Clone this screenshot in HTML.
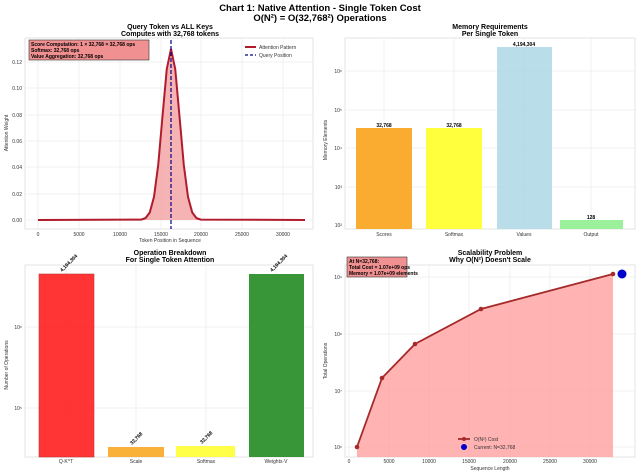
<!DOCTYPE html>
<html><head><meta charset="utf-8"><style>
body{margin:0;background:#fff}
svg{display:block;font-family:"Liberation Sans",sans-serif}
.t{font-size:7px;font-weight:bold;text-anchor:middle}
.tk{font-size:5px;fill:#333}
.g{stroke:#e6e6e6;stroke-width:0.6}
.ax{fill:#fff;stroke:#ddd;stroke-width:0.8}
.v{font-size:5px;font-weight:bold;text-anchor:middle}
</style></head><body>
<svg width="640" height="475" viewBox="0 0 640 475">
<text x="320" y="11" class="t" style="font-size:9.5px">Chart 1: Native Attention - Single Token Cost</text>
<text x="320" y="21" class="t" style="font-size:9.5px">O(N²) = O(32,768²) Operations</text>

<!-- Panel 1 -->
<text x="170" y="29" class="t">Query Token vs ALL Keys</text>
<text x="170" y="36" class="t">Computes with 32,768 tokens</text>
<rect x="25" y="38" width="288" height="191" class="ax"/>
<g class="g">
<line x1="38" y1="38" x2="38" y2="229"/><line x1="79" y1="38" x2="79" y2="229"/><line x1="120" y1="38" x2="120" y2="229"/><line x1="161" y1="38" x2="161" y2="229"/><line x1="201" y1="38" x2="201" y2="229"/><line x1="242" y1="38" x2="242" y2="229"/><line x1="283" y1="38" x2="283" y2="229"/>
<line x1="25" y1="220" x2="313" y2="220"/><line x1="25" y1="194" x2="313" y2="194"/><line x1="25" y1="167" x2="313" y2="167"/><line x1="25" y1="141" x2="313" y2="141"/><line x1="25" y1="115" x2="313" y2="115"/><line x1="25" y1="88" x2="313" y2="88"/><line x1="25" y1="62" x2="313" y2="62"/>
</g>
<path d="M38,220 L141.25,219.6 145.5,218.1 149.75,212.5 154,196.9 158.25,164.5 162.5,116.3 166.75,69.1 171,49 175.25,69.1 179.5,116.3 183.75,164.5 188,196.9 192.25,212.5 196.5,218.1 200.75,219.6 305,220 Z" fill="#f4a0a0" opacity="0.8"/>
<path d="M38,220 L141.25,219.6 145.5,218.1 149.75,212.5 154,196.9 158.25,164.5 162.5,116.3 166.75,69.1 171,49 175.25,69.1 179.5,116.3 183.75,164.5 188,196.9 192.25,212.5 196.5,218.1 200.75,219.6 305,220" fill="none" stroke="#b01c2e" stroke-width="2"/>
<line x1="171" y1="40" x2="171" y2="229" stroke="#00008b" stroke-width="1.2" stroke-dasharray="4,2"/>
<g class="tk" text-anchor="middle"><text x="38" y="236">0</text><text x="79" y="236">5000</text><text x="120" y="236">10000</text><text x="161" y="236">15000</text><text x="201" y="236">20000</text><text x="242" y="236">25000</text><text x="283" y="236">30000</text></g>
<g class="tk" text-anchor="end"><text x="22" y="222">0.00</text><text x="22" y="196">0.02</text><text x="22" y="169">0.04</text><text x="22" y="143">0.06</text><text x="22" y="117">0.08</text><text x="22" y="90">0.10</text><text x="22" y="64">0.12</text></g>
<text x="170" y="242" class="tk" text-anchor="middle">Token Position in Sequence</text>
<text transform="translate(8,133) rotate(-90)" class="tk" text-anchor="middle">Attention Weight</text>
<rect x="29" y="40" width="120" height="20" fill="#f09090" stroke="#333" stroke-width="0.6"/>
<g style="font-size:5px;font-weight:bold"><text x="31" y="46">Score Computation: 1 × 32,768 = 32,768 ops</text><text x="31" y="52">Softmax: 32,768 ops</text><text x="31" y="58">Value Aggregation: 32,768 ops</text></g>
<line x1="245" y1="47" x2="256" y2="47" stroke="#b01c2e" stroke-width="2"/><text x="259" y="49" class="tk">Attention Pattern</text>
<line x1="245" y1="55" x2="256" y2="55" stroke="#00008b" stroke-width="1.2" stroke-dasharray="3,2"/><text x="259" y="57" class="tk">Query Position</text>

<!-- Panel 2 -->
<text x="490" y="29" class="t">Memory Requirements</text>
<text x="490" y="36" class="t">Per Single Token</text>
<rect x="345" y="38" width="290" height="191" class="ax"/>
<g class="g"><line x1="384" y1="38" x2="384" y2="229"/><line x1="454" y1="38" x2="454" y2="229"/><line x1="524" y1="38" x2="524" y2="229"/><line x1="591" y1="38" x2="591" y2="229"/>
<line x1="345" y1="187" x2="635" y2="187"/><line x1="345" y1="148" x2="635" y2="148"/><line x1="345" y1="110" x2="635" y2="110"/><line x1="345" y1="71" x2="635" y2="71"/></g>
<rect x="356" y="128" width="56" height="101" fill="#f9a825" opacity="0.95"/>
<rect x="426" y="128" width="56" height="101" fill="#ffff33" opacity="0.95"/>
<rect x="497" y="47" width="55" height="182" fill="#add8e6" opacity="0.85"/>
<rect x="560" y="220" width="63" height="9" fill="#90ee90" opacity="0.9"/>
<text x="384" y="127" class="v">32,768</text><text x="454" y="127" class="v">32,768</text><text x="524" y="46" class="v">4,194,304</text><text x="591" y="219" class="v">128</text>
<g class="tk" text-anchor="middle"><text x="384" y="236">Scores</text><text x="454" y="236">Softmax</text><text x="524" y="236">Values</text><text x="591" y="236">Output</text></g>
<g class="tk" text-anchor="end"><text x="342" y="227">10²</text><text x="342" y="189">10³</text><text x="342" y="150">10⁴</text><text x="342" y="112">10⁵</text><text x="342" y="73">10⁶</text></g>
<text transform="translate(327,140) rotate(-90)" class="tk" text-anchor="middle">Memory Elements</text>

<!-- Panel 3 -->
<text x="170" y="255" class="t">Operation Breakdown</text>
<text x="170" y="262" class="t">For Single Token Attention</text>
<rect x="25" y="265" width="288" height="192" class="ax"/>
<g class="g"><line x1="66" y1="265" x2="66" y2="457"/><line x1="136" y1="265" x2="136" y2="457"/><line x1="206" y1="265" x2="206" y2="457"/><line x1="276" y1="265" x2="276" y2="457"/>
<line x1="25" y1="327" x2="313" y2="327"/><line x1="25" y1="408" x2="313" y2="408"/></g>
<rect x="39" y="274" width="55" height="183" fill="#ff2020" opacity="0.9" stroke="#b22" stroke-width="0.6"/>
<rect x="108" y="447" width="56" height="10" fill="#f9a825" opacity="0.9"/>
<rect x="176" y="446" width="59" height="11" fill="#ffff33" opacity="0.9"/>
<rect x="249" y="274" width="55" height="183" fill="#228b22" opacity="0.9"/>
<g style="font-size:5px;font-weight:bold"><text transform="translate(62,272) rotate(-45)">4,194,304</text><text transform="translate(132,445) rotate(-45)">32,768</text><text transform="translate(202,444) rotate(-45)">32,768</text><text transform="translate(272,272) rotate(-45)">4,194,304</text></g>
<g class="tk" text-anchor="middle"><text x="66" y="463">Q·K^T</text><text x="136" y="463">Scale</text><text x="206" y="463">Softmax</text><text x="276" y="463">Weights·V</text></g>
<g class="tk" text-anchor="end"><text x="22" y="329">10⁶</text><text x="22" y="410">10⁵</text></g>
<text transform="translate(8,365) rotate(-90)" class="tk" text-anchor="middle">Number of Operations</text>

<!-- Panel 4 -->
<text x="490" y="255" class="t">Scalability Problem</text>
<text x="490" y="262" class="t">Why O(N²) Doesn't Scale</text>
<rect x="345" y="265" width="290" height="192" class="ax"/>
<g class="g"><line x1="349" y1="265" x2="349" y2="457"/><line x1="389" y1="265" x2="389" y2="457"/><line x1="429" y1="265" x2="429" y2="457"/><line x1="469" y1="265" x2="469" y2="457"/><line x1="510" y1="265" x2="510" y2="457"/><line x1="550" y1="265" x2="550" y2="457"/><line x1="590" y1="265" x2="590" y2="457"/>
<line x1="345" y1="447" x2="635" y2="447"/><line x1="345" y1="391" x2="635" y2="391"/><line x1="345" y1="334" x2="635" y2="334"/><line x1="345" y1="277" x2="635" y2="277"/></g>
<path d="M357,447 L382,378 415,344 481,309 613,274 L613,457 L357,457 Z" fill="#ff9999" opacity="0.75"/>
<polyline points="357,447 382,378 415,344 481,309 613,274" fill="none" stroke="#a52a2a" stroke-width="1.8"/>
<g fill="#a52a2a"><circle cx="357" cy="447" r="2.3"/><circle cx="382" cy="378" r="2.3"/><circle cx="415" cy="344" r="2.3"/><circle cx="481" cy="309" r="2.3"/><circle cx="613" cy="274" r="2.3"/></g>
<circle cx="622" cy="274" r="4.5" fill="#0000cc"/>
<g class="tk" text-anchor="middle"><text x="349" y="463">0</text><text x="389" y="463">5000</text><text x="429" y="463">10000</text><text x="469" y="463">15000</text><text x="510" y="463">20000</text><text x="550" y="463">25000</text><text x="590" y="463">30000</text></g>
<text x="490" y="470" class="tk" text-anchor="middle">Sequence Length</text>
<g class="tk" text-anchor="end"><text x="342" y="449">10⁶</text><text x="342" y="393">10⁷</text><text x="342" y="336">10⁸</text><text x="342" y="279">10⁹</text></g>
<text transform="translate(327,361) rotate(-90)" class="tk" text-anchor="middle">Total Operations</text>
<rect x="347" y="257" width="60" height="20" fill="#f09090" stroke="#333" stroke-width="0.6"/>
<g style="font-size:5px;font-weight:bold"><text x="349" y="263">At N=32,768:</text><text x="349" y="269">Total Cost = 1.07e+09 ops</text><text x="349" y="275">Memory = 1.07e+09 elements</text></g>
<line x1="458" y1="439" x2="470" y2="439" stroke="#a52a2a" stroke-width="1.8"/><circle cx="464" cy="439" r="2" fill="#a52a2a"/><text x="474" y="441" class="tk">O(N²) Cost</text>
<circle cx="464" cy="447" r="3" fill="#0000cc"/><text x="474" y="449" class="tk">Current: N=32,768</text>
</svg>
</body></html>
